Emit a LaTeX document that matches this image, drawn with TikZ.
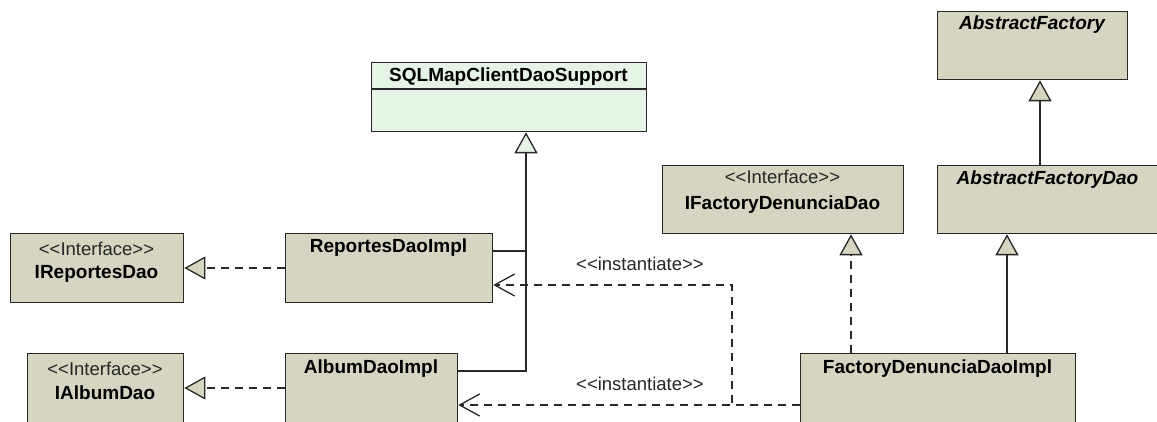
\documentclass[tikz,border=0pt]{standalone}
\usepackage{fontspec}
\setmainfont{Liberation Sans}[Ligatures=TeXOff]
\usetikzlibrary{arrows.meta,calc}
\definecolor{classfill}{RGB}{214,213,194}
\definecolor{supfill}{RGB}{229,244,230}
\definecolor{edgecol}{RGB}{40,40,40}

\begin{document}
\begin{tikzpicture}[x=1pt,y=-1pt,
  every node/.style={font=\fontsize{18.5}{20}\selectfont, inner sep=0pt},
  classbox/.style={draw=edgecol, line width=1.3pt, fill=classfill, anchor=north west},
  superbox/.style={classbox, fill=supfill},
  cname/.style={anchor=base, font=\fontsize{19}{20}\selectfont\bfseries},
  aname/.style={cname, font=\fontsize{19}{20}\selectfont\bfseries\itshape},
  stereo/.style={anchor=base, text=black!85},
  conn/.style={draw=edgecol, line width=1.3pt},
  gen/.style={conn, -{Triangle[length=21pt,width=23pt,fill=classfill]}},
  gensup/.style={conn, -{Triangle[length=21pt,width=23pt,fill=supfill]}},
  real/.style={gen, dash pattern=on 8pt off 6pt},
  dep/.style={conn, dash pattern=on 8pt off 6pt},
  deparrow/.style={dep, -{Straight Barb[length=20pt,width=22pt]}},
]
\useasboundingbox (0,0) rectangle (1157,422);
\clip (0,0) rectangle (1157,422);

% class boxes
\node[superbox, minimum width=275pt, minimum height=69pt] (sql) at (371,62) {};
\draw[conn] (371,89) -- (646,89);
\node[cname] (sqlt) at (508.5,82) {SQLMapClientDaoSupport};

\node[classbox, minimum width=173pt, minimum height=69pt] (irep) at (10,233) {};
\node[stereo] (irept1) at (96.5,255) {<<Interface>>};
\node[cname] (irept2) at (96.5,279) {IReportesDao};

\node[classbox, minimum width=156pt, minimum height=80pt] (ialb) at (27,353) {};
\node[stereo] (ialbt1) at (105,375) {<<Interface>>};
\node[cname] (ialbt2) at (105,399) {IAlbumDao};

\node[classbox, minimum width=207pt, minimum height=69pt] (rep) at (285,233) {};
\node[cname] (rept) at (388.5,253) {ReportesDaoImpl};

\node[classbox, minimum width=172pt, minimum height=80pt] (alb) at (285,353) {};
\node[cname] (albt) at (371,373) {AlbumDaoImpl};

\node[classbox, minimum width=241pt, minimum height=68pt] (ifd) at (662,165) {};
\node[stereo] (ifdt1) at (782.5,184) {<<Interface>>};
\node[cname] (ifdt2) at (782.5,210) {IFactoryDenunciaDao};

\node[classbox, minimum width=190pt, minimum height=68pt] (af) at (937,11) {};
\node[aname] (aft) at (1032,30) {AbstractFactory};

\node[classbox, minimum width=222pt, minimum height=68pt] (afd) at (937,165) {};
\node[aname] (afdt) at (1047.5,185) {AbstractFactoryDao};

\node[classbox, minimum width=275pt, minimum height=80pt] (fimpl) at (800,353) {};
\node[cname] (fimplt) at (937.5,373) {FactoryDenunciaDaoImpl};

% bend and lane points
\coordinate (g1) at (526,251);
\coordinate (g2) at (526,371);
\coordinate (r1) at (285,268);
\coordinate (r2) at (285,388);
\coordinate (d1) at (851,0);
\coordinate (d2) at (1007,0);
\coordinate (d3) at (1040,0);
\coordinate (i0) at (800,405);
\coordinate (ik) at (732,285);

% realizations
\draw[real] (rep.west |- r1) -- (irep.east |- r1);
\draw[real] (alb.west |- r2) -- (ialb.east |- r2);
\draw[real] (fimpl.north -| d1) -- (ifd.south -| d1);

% generalizations
\draw[conn] (rep.east |- g1) -- (g1);
\draw[gensup] (alb.east |- g2) -- (g2) -- (sql.south -| g2);
\draw[gen] (fimpl.north -| d2) -- (afd.south -| d2);
\draw[gen] (afd.north -| d3) -- (af.south -| d3);

% instantiate dependencies
\draw[deparrow] (fimpl.west |- i0) -- (ik |- i0) -- (ik) -- (rep.east |- ik);
\draw[deparrow] (fimpl.west |- i0) -- (alb.east |- i0);
\node[stereo] (inst1) at (640,270) {<<instantiate>>};
\node[stereo] (inst2) at (640,390) {<<instantiate>>};
\end{tikzpicture}
\end{document}
